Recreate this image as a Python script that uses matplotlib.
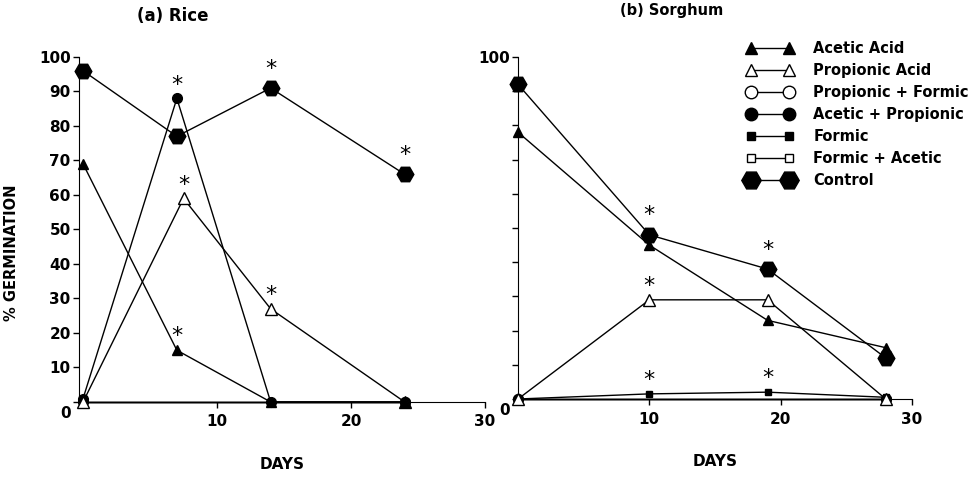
import matplotlib
matplotlib.use("Agg")
import matplotlib.pyplot as plt
from matplotlib.lines import Line2D
from matplotlib.transforms import ScaledTranslation

plt.rcParams['font.family'] = ['DejaVu Sans']
plt.rcParams['font.weight'] = 'bold'
plt.rcParams['axes.labelweight'] = 'bold'

# ---------------- data ----------------
rice_days = [0, 7, 14, 24]
rice_acetic = [69, 15, 0, 0]
rice_propionic_days = [0, 7.5, 14, 24]
rice_propionic = [0, 59, 27, 0]
rice_acetic_prop = [1, 88, 0, 0]
rice_control = [96, 77, 91, 66]
rice_end_days = [0, 24]
rice_prop_formic = [0, 0]
rice_formic = [0, 0]
rice_formic_acetic = [0, 0]

sorg_days = [0, 10, 19, 28]
sorg_acetic = [78, 45, 23, 15]
sorg_propionic = [0, 29, 29, 0]
sorg_formic = [0, 1.5, 2, 0.5]
sorg_control = [92, 48, 38, 12]
sorg_end_days = [0, 28]
sorg_prop_formic = [0, 0]
sorg_acetic_prop = [0, 0]
sorg_formic_acetic = [0, 0]

series_names = ["Acetic Acid", "Propionic Acid", "Propionic + Formic",
                "Acetic + Propionic", "Formic", "Formic + Acetic", "Control"]

# significance stars: (series name, index of point)
rice_stars = [("Acetic Acid", 1), ("Propionic Acid", 1), ("Propionic Acid", 2),
              ("Acetic + Propionic", 1), ("Control", 2), ("Control", 3)]
sorg_stars = [("Propionic Acid", 1), ("Formic", 1), ("Formic", 2),
              ("Control", 1), ("Control", 2)]

# ---------------- styles ----------------
styles = {
    "Acetic Acid": dict(marker='^', ms=7, mfc='black', mec='black'),
    "Propionic Acid": dict(marker='^', ms=8, mfc='white', mec='black'),
    "Propionic + Formic": dict(marker='o', ms=7, mfc='white', mec='black'),
    "Acetic + Propionic": dict(marker='o', ms=7, mfc='black', mec='black'),
    "Formic": dict(marker='s', ms=5, mfc='black', mec='black'),
    "Formic + Acetic": dict(marker='s', ms=5, mfc='white', mec='black'),
    "Control": dict(marker='H', ms=12, mfc='black', mec='black'),
}
legend_ms = {"Acetic Acid": 8, "Propionic Acid": 8, "Propionic + Formic": 9,
             "Acetic + Propionic": 9, "Formic": 6, "Formic + Acetic": 6, "Control": 14}
star_off = {"Control": 14}

fig = plt.figure(figsize=(9.77, 4.79), dpi=100)
axL = fig.add_axes([0.0809, 0.1608, 0.4156, 0.7202])
axR = fig.add_axes([0.5302, 0.1670, 0.4033, 0.7140])

rice = {
    "Acetic Acid": (rice_days, rice_acetic),
    "Propionic Acid": (rice_propionic_days, rice_propionic),
    "Propionic + Formic": (rice_end_days, rice_prop_formic),
    "Acetic + Propionic": (rice_days, rice_acetic_prop),
    "Formic": (rice_end_days, rice_formic),
    "Formic + Acetic": (rice_end_days, rice_formic_acetic),
    "Control": (rice_days, rice_control),
}
sorg = {
    "Acetic Acid": (sorg_days, sorg_acetic),
    "Propionic Acid": (sorg_days, sorg_propionic),
    "Propionic + Formic": (sorg_end_days, sorg_prop_formic),
    "Acetic + Propionic": (sorg_end_days, sorg_acetic_prop),
    "Formic": (sorg_days, sorg_formic),
    "Formic + Acetic": (sorg_end_days, sorg_formic_acetic),
    "Control": (sorg_days, sorg_control),
}

order = ["Propionic + Formic", "Formic + Acetic", "Formic", "Acetic + Propionic",
         "Propionic Acid", "Acetic Acid", "Control"]


def draw(ax, data, stars):
    for name in order:
        x, y = data[name]
        ax.plot(x, y, color='black', lw=1.0, clip_on=False, zorder=3, **styles[name])
    for name, i in stars:
        x, y = data[name]
        ax.annotate('*', xy=(x[i], y[i]), xytext=(0, star_off.get(name, 10)),
                    textcoords='offset points', ha='center', va='center',
                    fontsize=16, fontweight='normal', zorder=5)
    for s in ['top', 'right']:
        ax.spines[s].set_visible(False)
    ax.set_ylim(0, 100)
    ax.set_xticks([10, 20, 30])
    ax.set_xticklabels(['10', '20', '30'])
    ax.set_xlabel('DAYS', fontsize=11, fontweight='bold', labelpad=20)
    ax.tick_params(direction='out', length=4, width=1, labelsize=11, pad=5)
    ax.tick_params(axis='y', pad=2)
    # the "0" label sits a little below the origin
    lab0 = ax.get_yticklabels()[0]
    lab0.set_transform(lab0.get_transform() + ScaledTranslation(0, -7 / 72, fig.dpi_scale_trans))


axL.set_yticks(range(0, 101, 10))
axL.set_yticklabels([str(v) for v in range(0, 101, 10)])
draw(axL, rice, rice_stars)
axL.set_xlim(-0.3, 30)

axR.set_yticks(range(0, 101, 10))
axR.set_yticklabels(['0'] + [''] * 9 + ['100'])
draw(axR, sorg, sorg_stars)
axR.set_xlim(0, 30)

fig.text(12 / 977, 1 - 253 / 479, '% GERMINATION', rotation=90, ha='center', va='center',
         fontsize=10.5)
fig.text(173 / 977, 1 - 16 / 479, '(a) Rice', ha='center', va='center', fontsize=12)
fig.text(672 / 977, 1 - 11 / 479, '(b) Sorghum', ha='center', va='center', fontsize=10.5)

handles = []
for n in series_names:
    st = dict(styles[n])
    st['ms'] = legend_ms[n]
    handles.append(Line2D([], [], color='black', lw=1.0, **st))
leg = fig.legend(handles, series_names, loc='upper left',
                 bbox_to_anchor=(747 / 977, 1 - 41 / 479), bbox_transform=fig.transFigure,
                 frameon=False, numpoints=2, handlelength=3.2, fontsize=10.5,
                 labelspacing=0.48, handletextpad=1.35, borderaxespad=0, borderpad=0)

fig.savefig('out.png', dpi=100)
